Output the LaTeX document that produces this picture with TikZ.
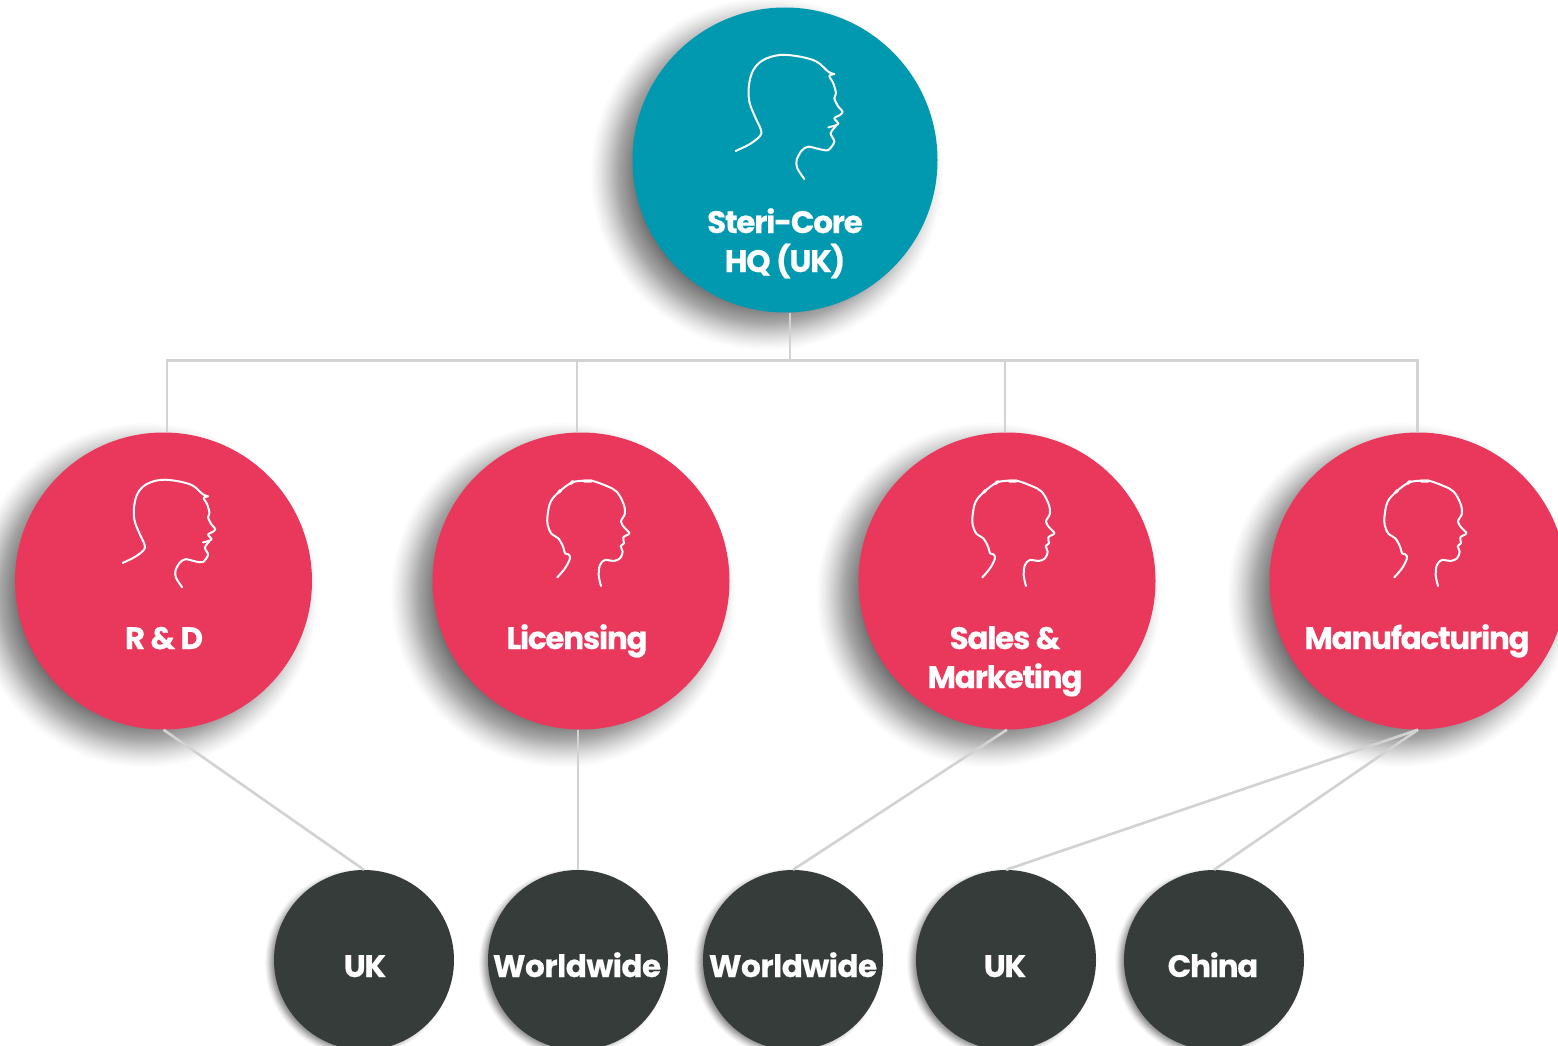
\documentclass[tikz,border=0pt]{standalone}
\usepackage{fontspec}
\setmainfont{Poppins}[LetterSpace=-4,BoldFeatures={FakeBold=0.35}]
\definecolor{tealc}{HTML}{0099B0}
\definecolor{redc}{HTML}{EA375C}
\definecolor{darkc}{HTML}{353C39}
\definecolor{linec}{HTML}{D2D2D2}
\tikzset{
  hqdisc/.style={circle,fill=tealc,minimum size=305pt,inner sep=0pt},
  reddisc/.style={circle,fill=redc,minimum size=297pt,inner sep=0pt},
  darkdisc/.style={circle,fill=darkc,minimum size=180pt,inner sep=0pt},
  linkline/.style={draw=linec,line width=2.6pt},
  headline/.style={draw=white,line width=2pt,line cap=round,line join=round},
  lab/.style={text=white,font=\fontsize{31}{31}\selectfont\bfseries,inner sep=0pt,anchor=base}
}
% x, y, radius, dx, dy, outward reach, radial range
\newcommand{\softshadow}[7]{%
  \foreach \d in {1,...,60}{
    \fill[black,opacity=.01] (#1+#4,#2+#5) circle ({(#3+#6-#7*(\d/60)^0.75)*1pt});
  }}
\newcommand{\profilea}[3]{%
  \draw[headline,shift={(#1,#2)},scale=#3] plot[smooth,tension=.6] coordinates {
   (107,363)(150,342)(180,318)(183,300)(165,260)(148,215)(147,165)(160,120)(190,90)(240,75)(300,80)(350,95)(385,125)(403,132)};
  \draw[headline,shift={(#1,#2)},scale=#3] plot[smooth,tension=.5] coordinates {
   (403,132)(388,138)(400,160)(408,190)(403,205)(415,230)(428,245)(420,255)(403,265)(415,282)(385,292)};
  \draw[headline,shift={(#1,#2)},scale=#3] plot[smooth,tension=.5] coordinates {
   (408,288)(392,310)(403,335)(385,360)(360,358)(325,350)(305,362)(290,390)(292,415)(313,447)};}
\newcommand{\profileb}[2]{%
  \draw[headline,shift={(#1,#2)},scale=.3333] plot[smooth,tension=.6] coordinates {
   (172,352)(195,325)(210,295)(205,283)(195,280)(190,262)(175,235)(155,222)(143,195)(143,165)(152,125)(178,95)(215,68)(250,62)(275,62)(320,78)(350,95)(370,130)(375,160)(363,185)(375,205)(388,220)(370,232)(372,250)(362,258)(368,275)(360,295)(340,303)(315,300)(300,315)(296,345)(303,378)};
  \draw[headline,shift={(#1,#2)},scale=.3333,line width=3pt] (176,97) -- (182,91) (212,71) -- (219,64) (252,63) -- (274,63);}
\begin{document}
\begin{tikzpicture}[x=1pt,y=-1pt]
\clip (0,0) rectangle (1558,1046);
\fill[white] (0,0) rectangle (1558,1046);
% shadows
\softshadow{785}{160}{152.5}{-18}{14}{26}{50}
\softshadow{163.5}{581}{148.5}{-18}{14}{26}{50}
\softshadow{581}{581}{148.5}{-18}{14}{26}{50}
\softshadow{1007}{581}{148.5}{-18}{14}{26}{50}
\softshadow{1418}{581}{148.5}{-18}{14}{26}{50}
\softshadow{364}{960}{90}{-5}{3}{5}{14}
\softshadow{578}{960}{90}{-5}{3}{5}{14}
\softshadow{793}{960}{90}{-5}{3}{5}{14}
\softshadow{1006}{960}{90}{-5}{3}{5}{14}
\softshadow{1214}{960}{90}{-5}{3}{5}{14}
% discs
\node[hqdisc] (hq) at (785,160) {};
\node[reddisc] (rd) at (163.5,581) {};
\node[reddisc] (lic) at (581,581) {};
\node[reddisc] (sal) at (1007,581) {};
\node[reddisc] (man) at (1418,581) {};
\node[darkdisc] (uka) at (364,960) {};
\node[darkdisc] (wwa) at (578,960) {};
\node[darkdisc] (wwb) at (793,960) {};
\node[darkdisc] (ukb) at (1006,960) {};
\node[darkdisc] (chn) at (1214,960) {};
% bus junctions
\coordinate (busc) at (790,360.5);
\coordinate (busa) at (167,360.5);
\coordinate (busb) at (577,360.5);
\coordinate (busd) at (1005,360.5);
\coordinate (buse) at (1417.5,360.5);
% connectors
\draw[linkline] (busc |- hq.south) -- (busc);
\draw[linkline] (busa |- rd.north) -- (busa) -- (buse) -- (buse |- man.north);
\draw[linkline] (busb) -- (busb |- lic.north);
\draw[linkline] (busd) -- (busd |- sal.north);
\draw[linkline] (rd.south) -- (uka.north);
\draw[linkline] (wwa.north |- lic.south) -- (wwa.north);
\draw[linkline] (sal.south) -- (wwb.north);
\draw[linkline] (man.south) -- (ukb.north);
\draw[linkline] (man.south) -- (chn.north);
% heads
\profilea{700}{30}{.3333}
\profilea{91.8}{458.2}{.2885}
\profileb{500}{460}
\profileb{925}{460}
\profileb{1337}{460}
% labels
\node[lab] (t1) at (785,233) {Steri-Core};
\node[lab] (t2) at (785,272) {HQ (UK)};
\node[lab] (t3) at (164,649) {R \& D};
\node[lab] (t4) at (577,649) {Licensing};
\node[lab] (t5) at (1005,649) {Sales \&};
\node[lab] (t6) at (1005,688) {Marketing};
\node[lab] (t7) at (1417,649) {Manufacturing};
\node[lab] (t8) at (365,977) {UK};
\node[lab] (t9) at (577,977) {\addfontfeatures{LetterSpace=-1.5}Worldwide};
\node[lab] (t10) at (793,977) {\addfontfeatures{LetterSpace=-1.5}Worldwide};
\node[lab] (t11) at (1005,977) {UK};
\node[lab] (t12) at (1213,977) {China};
\end{tikzpicture}
\end{document}
